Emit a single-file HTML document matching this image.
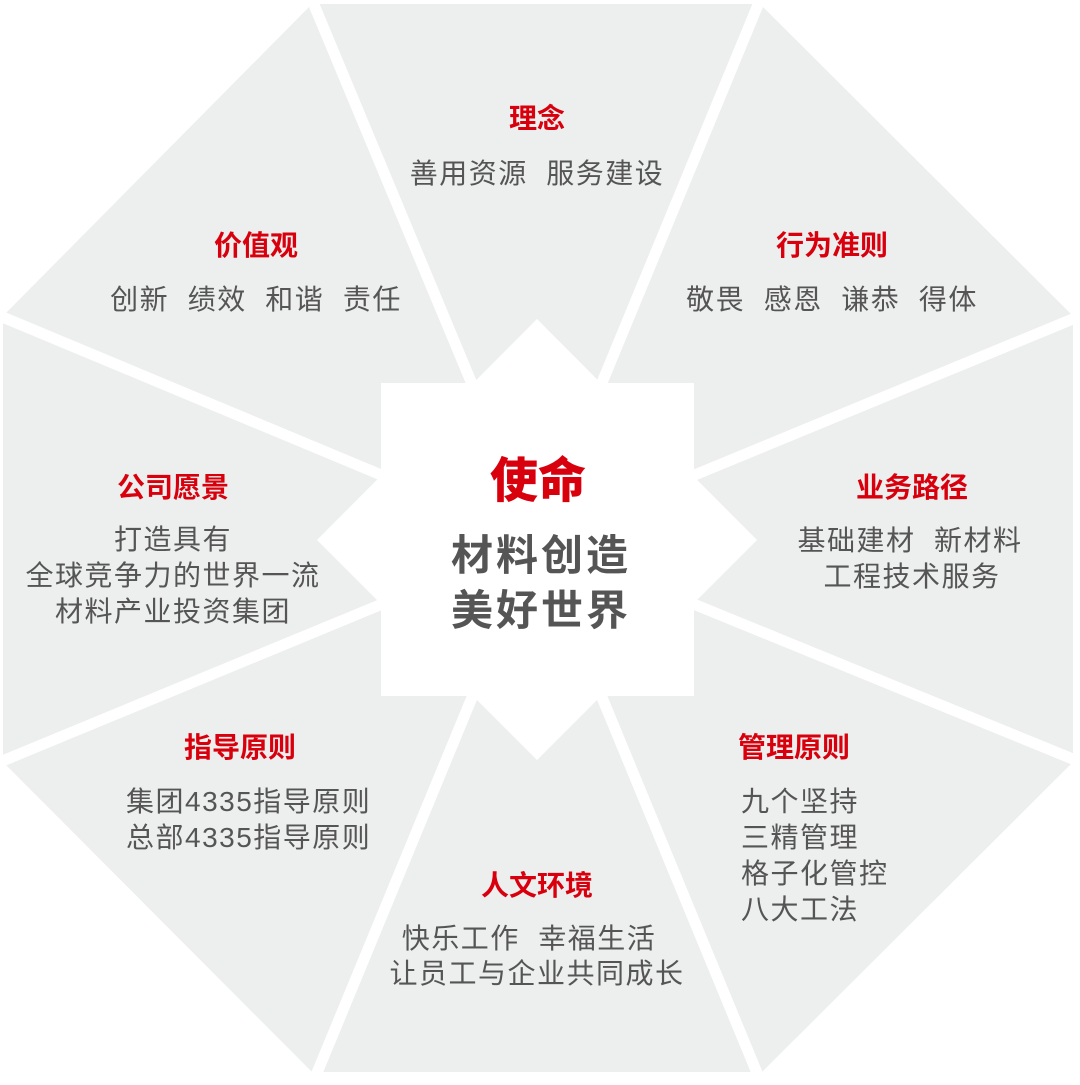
<!DOCTYPE html>
<html><head><meta charset="utf-8"><style>
html,body{margin:0;padding:0;background:#fff;}
svg{display:block}
text{font-family:"Liberation Sans","Noto Sans CJK SC",sans-serif;white-space:pre;}
.t{fill:#d9000d;font-weight:bold;font-size:28px;}
.b{fill:#555;font-size:28px;letter-spacing:1.5px;}
</style></head><body>
<svg width="1080" height="1085" viewBox="0 0 1080 1085" xml:space="preserve">
<polygon points="312,4 760,4 1073,316 1073,762 762,1072 312,1072 3,762 3,316" fill="#edeeee"/>
<g stroke="#fff" stroke-width="11">
<line x1="537" y1="540" x2="312" y2="0"/>
<line x1="537" y1="540" x2="760" y2="0"/>
<line x1="537" y1="540" x2="1080" y2="316"/>
<line x1="537" y1="540" x2="1080" y2="762"/>
<line x1="537" y1="540" x2="762" y2="1085"/>
<line x1="537" y1="540" x2="312" y2="1085"/>
<line x1="537" y1="540" x2="0" y2="762"/>
<line x1="537" y1="540" x2="0" y2="316"/>
</g>
<rect x="381" y="383" width="313" height="313" fill="#fff"/>
<polygon points="537,319 757,540 537,760 317,540" fill="#fff"/>

<text class="t" x="537" y="128" text-anchor="middle">理念</text>
<text class="b" x="537" y="183" text-anchor="middle">善用资源  服务建设</text>

<text class="t" x="256" y="255" text-anchor="middle">价值观</text>
<text class="b" x="256" y="309" text-anchor="middle">创新  绩效  和谐  责任</text>

<text class="t" x="832" y="255" text-anchor="middle">行为准则</text>
<text class="b" x="832" y="309" text-anchor="middle">敬畏  感恩  谦恭  得体</text>

<text class="t" x="173" y="497" text-anchor="middle">公司愿景</text>
<text class="b" x="173" y="549" text-anchor="middle">打造具有</text>
<text class="b" x="173" y="585" text-anchor="middle">全球竞争力的世界一流</text>
<text class="b" x="173" y="621" text-anchor="middle">材料产业投资集团</text>

<text class="t" x="912" y="497" text-anchor="middle">业务路径</text>
<text class="b" x="910" y="550" text-anchor="middle">基础建材  新材料</text>
<text class="b" x="912" y="586" text-anchor="middle">工程技术服务</text>

<text class="t" x="240" y="757" text-anchor="middle">指导原则</text>
<text class="b" x="126" y="811">集团4335指导原则</text>
<text class="b" x="126" y="847">总部4335指导原则</text>

<text class="t" x="794" y="757" text-anchor="middle">管理原则</text>
<text class="b" x="741" y="811">九个坚持</text>
<text class="b" x="741" y="847">三精管理</text>
<text class="b" x="741" y="883">格子化管控</text>
<text class="b" x="741" y="919">八大工法</text>

<text class="t" x="537" y="895" text-anchor="middle">人文环境</text>
<text class="b" x="529" y="948" text-anchor="middle">快乐工作  幸福生活</text>
<text class="b" x="537" y="983" text-anchor="middle">让员工与企业共同成长</text>

<text x="538" y="497" text-anchor="middle" style="fill:#d9000d;font-weight:900;font-size:48px;">使命</text>
<text x="541" y="570" text-anchor="middle" style="fill:#555;font-weight:bold;font-size:42px;letter-spacing:3px;">材料创造</text>
<text x="541" y="625" text-anchor="middle" style="fill:#555;font-weight:bold;font-size:42px;letter-spacing:3px;">美好世界</text>
</svg>
</body></html>
